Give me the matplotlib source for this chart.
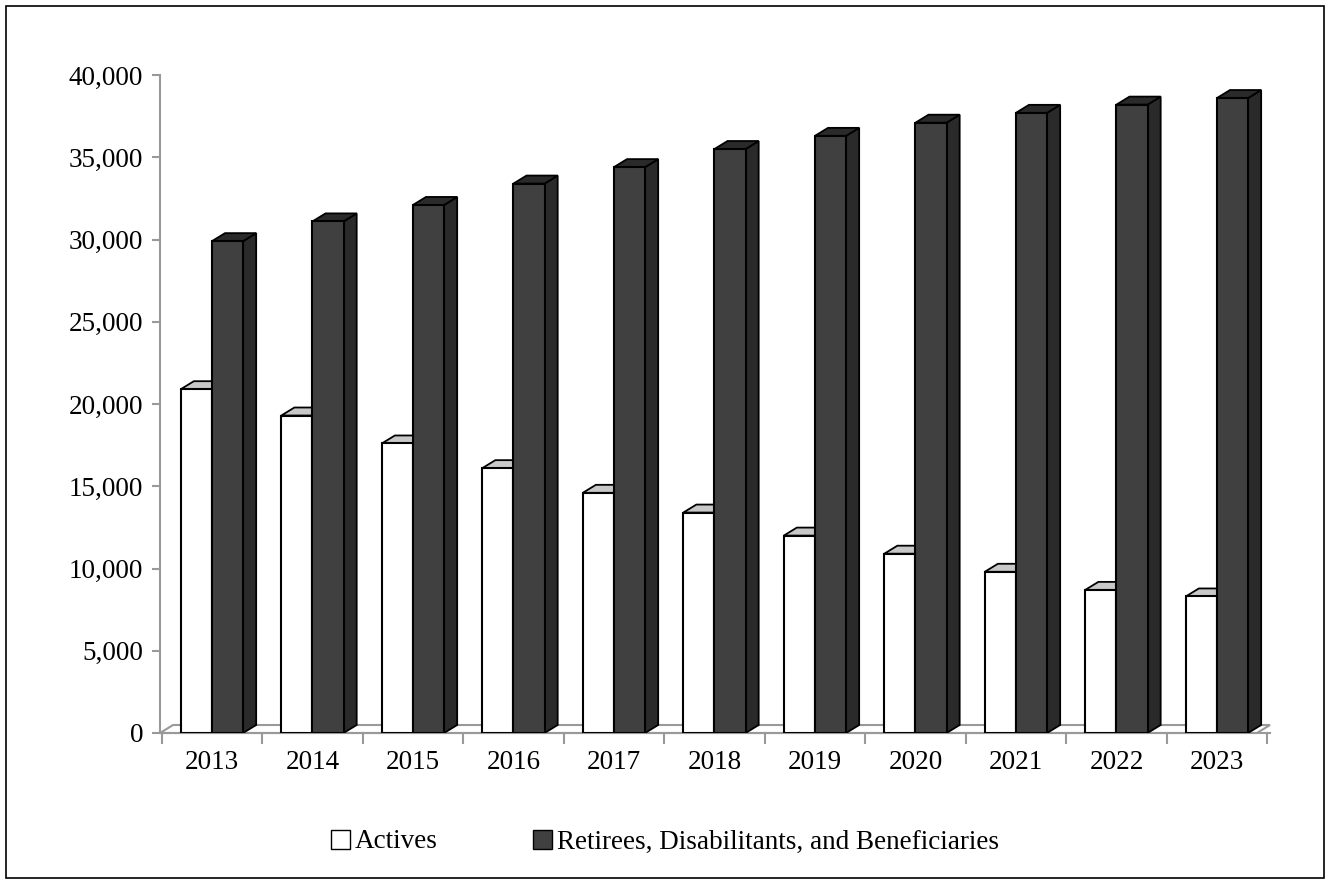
import matplotlib.pyplot as plt
from matplotlib.patches import Polygon, Rectangle
import numpy as np

years = ["2013", "2014", "2015", "2016", "2017", "2018", "2019", "2020", "2021", "2022", "2023"]
actives = [20900, 19300, 17600, 16100, 14600, 13400, 12000, 10900, 9800, 8700, 8300]
retirees = [29900, 31100, 32100, 33400, 34400, 35500, 36300, 37100, 37700, 38200, 38600]

W, H = 1330, 884
fig = plt.figure(figsize=(W / 100, H / 100), dpi=100)
plt.rcParams['font.family'] = ['Liberation Serif', 'DejaVu Serif']
fig.add_artist(Rectangle((6 / W, 6 / H), 1 - 12 / W, 1 - 12 / H, transform=fig.transFigure,
                         fill=False, ec='black', lw=1.2))

ax = fig.add_axes([160 / W, 1 - 733 / H, 1110 / W, 658 / H])
ax.set_xlim(-0.517, 10.528)
ax.set_ylim(0, 40000)

bw = 0.31
dx = 0.13
dy = 8 / 658 * 40000
x = np.arange(len(years))

def bar3d(x0, h, front, top, side):
    ax.add_patch(Polygon([(x0 + bw, 0), (x0 + bw + dx, dy), (x0 + bw + dx, h + dy), (x0 + bw, h)],
                         closed=True, fc=side, ec='black', lw=1.3, zorder=3))
    ax.add_patch(Polygon([(x0, h), (x0 + dx, h + dy), (x0 + bw + dx, h + dy), (x0 + bw, h)],
                         closed=True, fc=top, ec='black', lw=1.3, zorder=3))
    ax.add_patch(Rectangle((x0, 0), bw, h, fc=front, ec='black', lw=1.5, zorder=4))

# floor
ax.add_patch(Polygon([(-0.517, 0), (-0.517 + dx, dy), (10.528, dy), (10.528 - dx, 0)],
                     closed=True, fc='none', ec='#999999', lw=1.5, zorder=1, clip_on=False))

for i in x:
    bar3d(i - bw, actives[i], 'white', '#c8c8c8', '#e0e0e0')
    bar3d(i, retirees[i], '#404040', '#2a2a2a', '#2a2a2a')

fs = 19.5
ax.set_yticks(range(0, 40001, 5000))
ax.set_yticklabels([f"{v:,}" for v in range(0, 40001, 5000)], fontsize=fs)
ax.set_xticks(np.arange(-0.5, 10.6, 1), minor=False)
ax.set_xticklabels([])
ax.set_xticks(x, minor=True)
ax.set_xticklabels(years, minor=True, fontsize=fs)
ax.tick_params(axis='x', which='minor', length=0, pad=12)
ax.tick_params(axis='x', which='major', length=8, color='#999999', width=1.5)
ax.tick_params(axis='y', length=6, color='#999999', width=1.5, pad=6)
for s in ['top', 'right']:
    ax.spines[s].set_visible(False)
ax.spines['left'].set_color('#999999')
ax.spines['left'].set_linewidth(1.5)
ax.spines['bottom'].set_color('#999999')
ax.spines['bottom'].set_linewidth(1.5)

h1 = Rectangle((0, 0), 1, 1, fc='white', ec='black')
h2 = Rectangle((0, 0), 1, 1, fc='#404040', ec='black')
fig.legend([h1, h2], ["Actives", "Retirees, Disabilitants, and Beneficiaries"],
           loc='center', bbox_to_anchor=(0.5, 1 - 842 / H), ncol=2, frameon=False,
           fontsize=fs, handlelength=0.7, handleheight=0.7, handletextpad=0.2, columnspacing=3.5)

fig.savefig("out.png", dpi=100)
